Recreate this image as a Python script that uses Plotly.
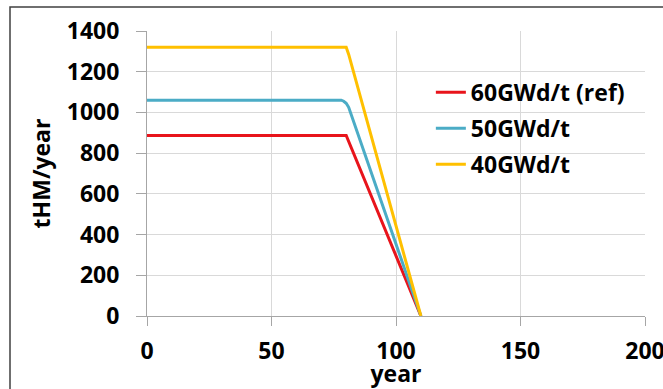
import plotly.graph_objects as go

# ---- data ----
years_60 = [0, 80, 110]
thm_60 = [887, 887, 0]

years_50 = [0, 78, 79, 80, 81, 110]
thm_50 = [1060, 1060, 1055, 1045, 1025, 0]

years_40 = [0, 80, 81, 110]
thm_40 = [1320, 1320, 1285, 0]

names = ["60GWd/t (ref)", "50GWd/t", "40GWd/t"]
colors = ["#E8141B", "#4BACC6", "#FFC000"]

x_ticks = [0, 50, 100, 150, 200]
y_ticks = [0, 200, 400, 600, 800, 1000, 1200, 1400]

FONT = "Open Sans"

fig = go.Figure()
for xs, ys, nm, col in zip([years_60, years_50, years_40],
                           [thm_60, thm_50, thm_40], names, colors):
    fig.add_trace(go.Scatter(x=xs, y=ys, mode="lines", name=nm,
                             legendgroup=nm,
                             line=dict(color=col, width=3)))

W, H = 663, 389
L, R, T, B = 147, 18, 31, 72.5

fig.update_layout(
    width=W, height=H,
    margin=dict(l=L, r=R, t=T, b=B, pad=0, autoexpand=False),
    paper_bgcolor="white", plot_bgcolor="white",
    font=dict(family=FONT, size=23, color="black", weight="bold"),
    showlegend=True,
    legend=dict(x=0.57, y=0.86, xanchor="left", yanchor="top",
                bgcolor="rgba(0,0,0,0)", tracegroupgap=3,
                font=dict(family=FONT, size=23, color="black", weight="bold"),
                itemwidth=30),
    xaxis=dict(range=[0, 200], tickvals=x_ticks, ticktext=[str(v) for v in x_ticks],
               showgrid=True, gridcolor="#D9D9D9", gridwidth=1,
               showline=True, linecolor="#A6A6A6", linewidth=1,
               ticks="outside", ticklen=9, tickcolor="#A6A6A6",
               zeroline=False, ticklabelstandoff=5, automargin=False,
               ticklabeloverflow="allow",
               title=dict(text="year", standoff=1,
                          font=dict(family=FONT, size=23, weight="bold"))),
    yaxis=dict(range=[0, 1400], tickvals=y_ticks, ticktext=[str(v) for v in y_ticks],
               showgrid=True, gridcolor="#D9D9D9", gridwidth=1,
               showline=True, linecolor="#A6A6A6", linewidth=1,
               ticks="outside", ticklen=10, tickcolor="#A6A6A6",
               zeroline=False, ticklabelstandoff=12, automargin=False,
               title=dict(text="tHM/year", standoff=9,
                          font=dict(family=FONT, size=23, weight="bold"))),
)

# outer chart border (left and top edges visible in the reference)
pw, ph = W - L - R, H - T - B
fig.add_shape(type="rect", xref="paper", yref="paper",
              x0=(10 - L) / pw, x1=(W + 20 - L) / pw,
              y0=-(H + 20 - (H - B)) / ph, y1=(H - B - 7) / ph,
              line=dict(color="#404040", width=1.5), fillcolor="rgba(0,0,0,0)",
              layer="below")

fig.write_html("out.html",
               config={"displayModeBar": False},
               post_script="document.body.style.margin='0';"
                           "document.body.style.overflow='hidden';")
